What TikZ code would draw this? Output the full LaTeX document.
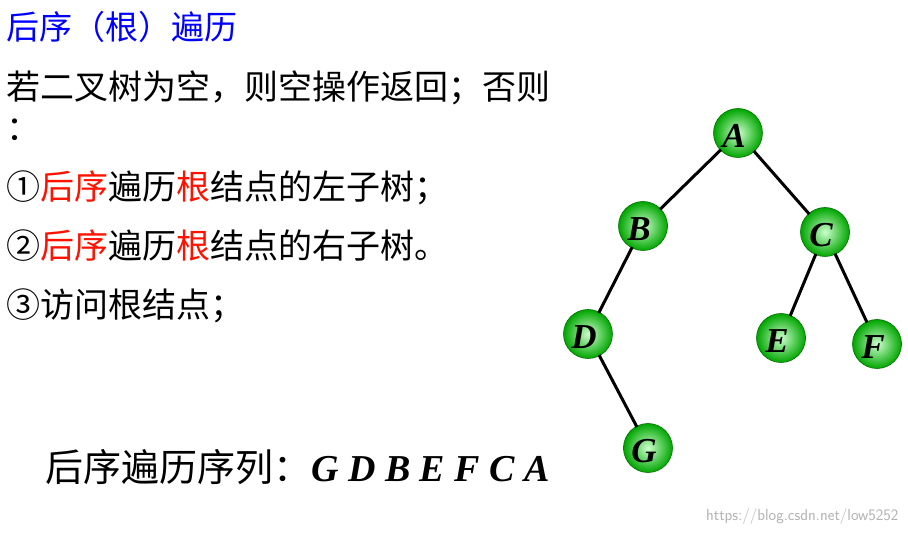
\documentclass[tikz,border=0pt]{standalone}
\usepackage{fontspec}
\newfontfamily\cjk{Noto Sans CJK SC}
\newfontfamily\lat{Liberation Serif}
\begin{document}
\begin{tikzpicture}[x=1pt,y=-1pt,
  tn/.style={circle,minimum size=49pt,inner sep=0pt,draw=green!45!black,line width=0.6pt,
    inner color=green!20!white,outer color=green!65!black,
    font=\lat\bfseries\itshape\fontsize{35}{35}\selectfont},
  lb/.style={xshift=-4pt,yshift=-3pt},
  ed/.style={line width=3pt,shorten <=-1pt,shorten >=-1pt},
  tx/.style={anchor=west,inner sep=0pt,font=\cjk\fontsize{34}{34}\selectfont}]
\useasboundingbox (0,0) rectangle (908,534);
\fill[white] (0,0) rectangle (908,534);
\node[tx,text=blue,font=\cjk\fontsize{33}{33}\selectfont] (t) at (6,27) {后序（根）遍历};
\node[tx] (l1) at (6,88) {若二叉树为空，则空操作返回；否则};
\node[tx] (l2) at (6,130) {：};
\node[tx] (i1) at (6,188) {①\textcolor{red!85!orange}{后序}遍历\textcolor{red!85!orange}{根}结点的左子树；};
\node[tx] (i2) at (6,246) {②\textcolor{red!85!orange}{后序}遍历\textcolor{red!85!orange}{根}结点的右子树。};
\node[tx] (i3) at (6,306) {③访问根结点；};
\node[tx,font=\cjk\fontsize{38}{38}\selectfont] (s) at (45,467) {后序遍历序列：{\lat\bfseries\itshape\fontsize{38}{38}\selectfont G D B E F C A}};
\node[anchor=east,text=gray!60,font=\sffamily\fontsize{16}{16}\selectfont] (w) at (902,516) {https://blog.csdn.net/low5252};
\node[tn] (A) at (738,133) {};
\node[tn] (B) at (643,226) {};
\node[tn] (C) at (825,232) {};
\node[tn] (D) at (588,334) {};
\node[tn] (E) at (781,338) {};
\node[tn] (F) at (877,344) {};
\node[tn] (G) at (648,448) {};
\foreach \n in {A,B,C,D,E,F,G} \node[lb,font=\lat\bfseries\itshape\fontsize{35}{35}\selectfont] (l\n) at (\n) {\n};
\draw[ed] (A) -- (B);
\draw[ed] (A) -- (C);
\draw[ed] (B) -- (D);
\draw[ed] (C) -- (E);
\draw[ed] (C) -- (F);
\draw[ed] (D) -- (G);
\end{tikzpicture}
\end{document}
